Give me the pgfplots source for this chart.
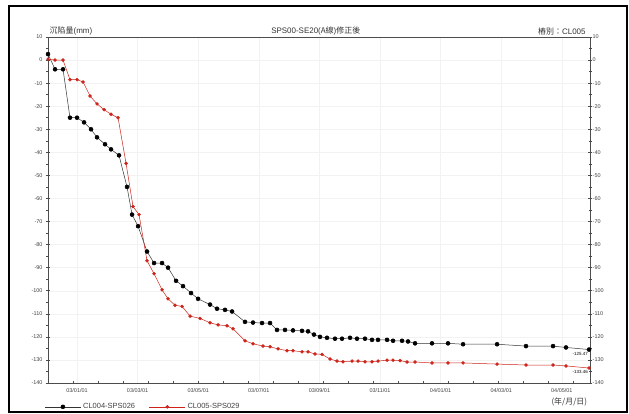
\documentclass[border=0pt]{standalone}
\usepackage{pgfplots}
\pgfplotsset{compat=1.18}
\usepackage{fontspec}
\setmainfont{Liberation Sans}
\newfontfamily\cjk{Noto Sans CJK TC}
\definecolor{redser}{RGB}{205,35,25}
\begin{document}
\begin{tikzpicture}
\begin{axis}[
  width=542bp, height=346bp, scale only axis,
  xmin=-0.479, xmax=8.465, ymin=-140, ymax=10,
  axis line style={black!70, line width=0.7bp},
  xtick={0,1,2,3,4,5,6,7,8},
  xticklabels={03/01/01,03/03/01,03/05/01,03/07/01,03/09/01,03/11/01,04/01/01,04/03/01,04/05/01},
  major x tick style={draw=none},
  minor xtick={-0.066,0.347,0.759,1.172,1.584,1.997,2.409,2.822,3.234,3.647,4.059,4.472,4.884,5.297,5.709,6.122,6.534,6.947,7.359,7.772,8.184},
  minor tick length=3bp,
  major tick length=4bp,
  tick align=center,
  xtick pos=bottom,
  ytick={-140,-130,...,10},
  minor ytick={-135,-125,...,5},
  ytick pos=both,
  yticklabel pos=left,
  tick style={black!70, line width=0.5bp},
  ticklabel style={font=\fontsize{5.5}{6.5}\selectfont, text=black!75},
  /pgf/number format/assume math mode=true,
  xticklabel style={yshift=0bp},
  grid=major, major grid style={black!5, line width=0.4bp},
  clip=false,
  legend style={at={(-0.012,-0.069)}, anchor=west, legend columns=2, draw=none, fill=none,
    font=\fontsize{7.5}{8}\selectfont, text=black!75,
    /tikz/every even column/.append style={column sep=12bp}},
  legend image code/.code={%
    \draw[#1, mark=none] (0cm,0cm) -- (36bp,0cm);
    \draw[#1, only marks] plot coordinates {(18bp,0cm)};},
]
\addplot[black!80, line width=0.5bp, mark=*, mark size=2bp, mark options={fill=black, draw=black}] coordinates {
(-0.479,2.6) (-0.363,-4) (-0.231,-4) (-0.116,-25) (0,-25) (0.116,-27) (0.231,-30)
(0.330,-33.5) (0.462,-36.5) (0.561,-38.7) (0.693,-41.3) (0.825,-55) (0.908,-67)
(1.007,-72) (1.155,-83) (1.271,-88) (1.403,-88) (1.502,-90) (1.634,-95.7)
(1.749,-98) (1.881,-101) (1.997,-103.5) (2.195,-106) (2.310,-107.8) (2.442,-108.3)
(2.558,-109) (2.772,-113.5) (2.904,-113.8) (3.053,-114) (3.185,-114) (3.300,-117)
(3.432,-117) (3.564,-117.2) (3.713,-117.4) (3.812,-117.6) (3.910,-119) (4.010,-120)
(4.125,-120.4) (4.257,-120.8) (4.373,-120.8) (4.505,-120.4) (4.620,-120.8)
(4.752,-120.8) (4.868,-121.3) (4.967,-121.3) (5.116,-121.3) (5.215,-121.7)
(5.363,-121.7) (5.462,-122) (5.578,-122.8) (5.858,-122.8) (6.122,-122.8)
(6.370,-123.2) (6.931,-123.2) (7.409,-124) (7.855,-124) (8.069,-124.6) (8.449,-125.5)
};
\addlegendentry{CL004-SPS026}
\addplot[redser, line width=0.5bp, mark=*, mark size=1.5bp, mark options={fill=redser, draw=redser}] coordinates {
(-0.479,0.4) (-0.363,0) (-0.231,0) (-0.116,-8.5) (0,-8.5) (0.099,-9.5) (0.215,-15.6)
(0.330,-19) (0.446,-21.5) (0.561,-23.5) (0.677,-25) (0.809,-44.8) (0.924,-63.5)
(1.023,-67) (1.155,-87) (1.271,-92.6) (1.403,-99.6) (1.502,-103.5) (1.617,-106.3)
(1.733,-106.8) (1.865,-111) (2.030,-112) (2.195,-113.9) (2.327,-114.8) (2.475,-115.2)
(2.574,-116.5) (2.772,-121.7) (2.904,-123) (3.069,-124) (3.185,-124.3) (3.317,-125.2)
(3.465,-126) (3.564,-126) (3.713,-126.5) (3.812,-126.5) (3.927,-127.4) (4.043,-127.6)
(4.175,-129.6) (4.290,-130.5) (4.389,-130.8) (4.538,-130.5) (4.637,-130.5)
(4.752,-130.8) (4.868,-130.8) (4.967,-130.5) (5.116,-130.1) (5.215,-130.1)
(5.330,-130.3) (5.446,-130.9) (5.578,-130.9) (5.858,-131.3) (6.122,-131.3)
(6.370,-131.3) (6.931,-131.8) (7.409,-132.2) (7.855,-132.2) (8.069,-132.6) (8.449,-133.5)
};
\addlegendentry{CL005-SPS029}
% right axis labels
\pgfplotsinvokeforeach{10,0,-10,-20,-30,-40,-50,-60,-70,-80,-90,-100,-110,-120,-130,-140}{
  \node[anchor=west, font=\fontsize{5.5}{6.5}\selectfont, text=black!75, inner sep=1bp] at (axis cs:8.465,#1) {\hspace{1.5bp}#1};
}
% end value labels
\node[anchor=north east, font=\fontsize{4.5}{5}\selectfont, inner sep=0.5bp] at (axis cs:8.44,-126.3) {-125.47};
\node[anchor=north east, font=\fontsize{4.5}{5}\selectfont, inner sep=0.5bp] at (axis cs:8.44,-134.3) {-133.46};
% header texts
\node[anchor=south west, font=\fontsize{8}{9}\selectfont, text=black!80, inner sep=1.5bp] at (axis description cs:0.0,1) {{\cjk 沉陷量}(mm)};
\node[anchor=south, font=\fontsize{8}{9}\selectfont, text=black!80, inner sep=1.5bp] at (axis description cs:0.494,1) {SPS00-SE20({\cjk A線})\cjk 修正後};
\node[anchor=south east, font=\fontsize{8}{9}\selectfont, text=black!80, inner sep=1.5bp] at (axis description cs:0.995,1) {{\cjk 樁別：}CL005};
\node[anchor=east, font=\fontsize{8}{9}\selectfont, text=black!80, inner sep=0bp] at (axis description cs:0.995,-0.056) {\cjk (年/月/日)};
% border and bounding box
\draw[black, line width=1.6bp] (axis description cs:-0.0720,-0.0838) rectangle (axis description cs:1.0683,1.0896);
\coordinate (bbl) at (axis description cs:-0.08856,-0.0896);
\coordinate (btr) at (axis description cs:1.07196,1.10694);
\end{axis}
\pgfresetboundingbox
\path (bbl) rectangle (btr);
\end{tikzpicture}
\end{document}
